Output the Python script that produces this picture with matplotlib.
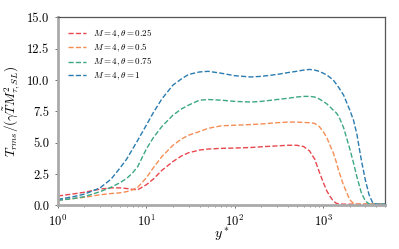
import numpy as np
import matplotlib
matplotlib.use("Agg")
import matplotlib.pyplot as plt

plt.rcParams['font.family'] = 'serif'
plt.rcParams['font.serif'] = ['cmr10', 'DejaVu Serif']
plt.rcParams['mathtext.fontset'] = 'cm'
plt.rcParams['axes.formatter.use_mathtext'] = True

# wall distance y*
y_plus = [1, 1.5, 2, 3, 4, 5, 6, 7, 8, 10, 12, 15, 20, 25, 30, 40, 50, 70, 100,
          150, 200, 300, 400, 500, 600, 700, 800, 900, 1000, 1100, 1200, 1300,
          1400, 1500, 1700, 2000, 2200, 2400, 2700, 3000, 3300, 3600, 4000, 5000]

# T_rms / (gamma T M^2) for theta = 0.25, 0.5, 0.75, 1
t_025 = [0.75, 0.92, 1.05, 1.3, 1.4, 1.4, 1.35, 1.28, 1.25, 1.65, 2.1, 2.8, 3.5,
         3.95, 4.2, 4.42, 4.5, 4.55, 4.58, 4.62, 4.68, 4.75, 4.8, 4.8, 4.7, 4.35,
         3.7, 2.7, 1.85, 1.15, 0.7, 0.35, 0.18, 0.12, 0.1, 0.1, 0.1, 0.1, 0.1,
         0.1, 0.1, 0.1, 0.1, 0.1]
t_05 = [0.42, 0.55, 0.65, 0.85, 0.95, 1.0, 1.1, 1.25, 1.45, 2.2, 3.0, 3.9, 4.8,
        5.3, 5.6, 5.9, 6.15, 6.35, 6.4, 6.45, 6.5, 6.6, 6.65, 6.65, 6.62, 6.6,
        6.55, 6.3, 5.9, 5.4, 4.75, 4.2, 3.5, 2.75, 1.6, 0.45, 0.15, 0.1, 0.1,
        0.1, 0.1, 0.1, 0.1, 0.1]
t_075 = [0.4, 0.55, 0.7, 1.1, 1.45, 1.8, 2.15, 2.6, 3.1, 4.5, 5.4, 6.3, 7.2,
         7.7, 8.0, 8.4, 8.45, 8.4, 8.3, 8.25, 8.3, 8.45, 8.55, 8.65, 8.7, 8.7,
         8.65, 8.5, 8.3, 8.1, 7.85, 7.6, 7.4, 7.1, 6.2, 4.5, 3.4, 2.3, 1.0,
         0.35, 0.12, 0.1, 0.1, 0.1]
t_1 = [0.48, 0.7, 0.9, 1.4, 2.1, 2.95, 3.7, 4.5, 5.2, 6.4, 7.4, 8.5, 9.6,
       10.1, 10.45, 10.65, 10.7, 10.55, 10.35, 10.25, 10.3, 10.45, 10.6, 10.7,
       10.8, 10.85, 10.8, 10.7, 10.55, 10.4, 10.2, 10.0, 9.7, 9.4, 8.8, 7.6,
       6.8, 5.7, 3.6, 2.0, 0.85, 0.25, 0.1, 0.1]

thetas = ['0.25', '0.5', '0.75', '1']
colors = ['#e8474f', '#f58e55', '#3ca883', '#2a7bb0']

fig, ax = plt.subplots(figsize=(3.99, 2.49), dpi=100)
fig.subplots_adjust(left=0.145, right=0.965, bottom=0.175, top=0.93)

for vals, th, c in zip([t_025, t_05, t_075, t_1], thetas, colors):
    ax.plot(y_plus, vals, '--', color=c, lw=1.0, label=rf'$M=4, \theta={th}$')

ax.set_xscale('log')
ax.set_xlim(1, 5000)
ax.set_ylim(0, 15)
ax.set_yticks([0, 2.5, 5, 7.5, 10, 12.5, 15])
ax.set_yticklabels(['0.0', '2.5', '5.0', '7.5', '10.0', '12.5', '15.0'])
ax.tick_params(labelsize=9, length=2.5, width=0.6, color='#555555')
ax.tick_params(which='minor', length=1.5, width=0.5, color='#555555')

for s in ['left', 'bottom']:
    ax.spines[s].set_color('#aaaaaa')
    ax.spines[s].set_linewidth(2.0)
for s in ['top', 'right']:
    ax.spines[s].set_color('#555555')
    ax.spines[s].set_linewidth(0.9)

ax.set_xlabel(r'$y^*$', fontsize=10, labelpad=-2)
ax.set_ylabel(r'$T_{rms}/(\gamma \tilde{T} M^2_{\tau,SL})$', fontsize=9.5, labelpad=3)
ax.legend(loc='upper left', frameon=False, fontsize=6.5, handlelength=2.0,
          labelspacing=0.2, borderaxespad=0.7)

plt.savefig('out.png', dpi=100)
